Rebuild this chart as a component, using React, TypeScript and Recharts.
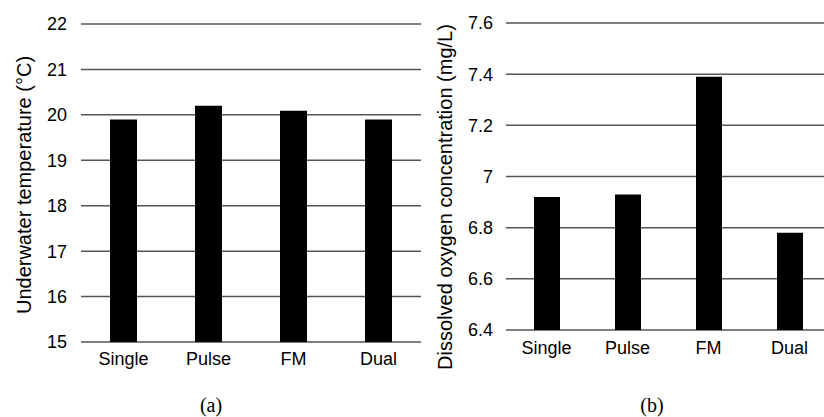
import { BarChart, Bar, XAxis, YAxis, CartesianGrid } from "recharts";

const modes = ["Single", "Pulse", "FM", "Dual"];
const temperature = [19.9, 20.2, 20.09, 19.9];
const oxygen = [6.92, 6.93, 7.39, 6.78];
const tempTicks = [15, 16, 17, 18, 19, 20, 21, 22];
const oxygenTicks = [6.4, 6.6, 6.8, 7, 7.2, 7.4, 7.6];

const tempData = modes.map((m, i) => ({ mode: m, value: temperature[i] }));
const oxygenData = modes.map((m, i) => ({ mode: m, value: oxygen[i] }));

const font = "'Liberation Sans', Arial, sans-serif";
const serif = "'Liberation Serif', 'Times New Roman', serif";
const tickStyle = { fontSize: 18, fill: "#000", fontFamily: font };
const gridColor = "#555";

export default function App() {
  return (
    <div
      style={{
        position: "absolute",
        left: 0,
        top: 0,
        width: 824,
        height: 417,
        overflow: "hidden",
        background: "#fff",
      }}
    >
      <div style={{ position: "absolute", left: 0, top: 0 }}>
        <BarChart
          width={421}
          height={417}
          data={tempData}
          margin={{ top: 24, right: 0, left: 0, bottom: 45 }}
        >
          <CartesianGrid vertical={false} stroke={gridColor} strokeWidth={1.5} />
          <XAxis
            dataKey="mode"
            axisLine={false}
            tickLine={false}
            tickMargin={4}
            tick={tickStyle}
            interval={0}
          />
          <YAxis
            width={81}
            domain={[15, 22]}
            ticks={tempTicks}
            axisLine={false}
            tickLine={false}
            tickMargin={8}
            tick={tickStyle}
          />
          <Bar dataKey="value" fill="#000" barSize={27} isAnimationActive={false} />
        </BarChart>
      </div>
      <div style={{ position: "absolute", left: 420, top: 0 }}>
        <BarChart
          width={410}
          height={417}
          data={oxygenData}
          margin={{ top: 23, right: 0, left: 0, bottom: 57 }}
        >
          <CartesianGrid vertical={false} stroke={gridColor} strokeWidth={1.5} />
          <XAxis
            dataKey="mode"
            axisLine={false}
            tickLine={false}
            tickMargin={5}
            tick={tickStyle}
            interval={0}
          />
          <YAxis
            width={86}
            domain={[6.4, 7.6]}
            ticks={oxygenTicks}
            axisLine={false}
            tickLine={false}
            tickMargin={7}
            tick={tickStyle}
            tickFormatter={(v: number) => String(v)}
          />
          <Bar dataKey="value" fill="#000" barSize={26} isAnimationActive={false} />
        </BarChart>
      </div>
      <svg
        width={824}
        height={417}
        style={{ position: "absolute", left: 0, top: 0, pointerEvents: "none" }}
      >
        <text
          x={24}
          y={185}
          transform="rotate(-90 24 185)"
          textAnchor="middle"
          dominantBaseline="central"
          fontSize={20}
          fontFamily={font}
          fill="#000"
        >
          Underwater temperature (°C)
        </text>
        <text
          x={445}
          y={197}
          transform="rotate(-90 445 197)"
          textAnchor="middle"
          dominantBaseline="central"
          fontSize={20}
          fontFamily={font}
          fill="#000"
        >
          Dissolved oxygen concentration (mg/L)
        </text>
        <text x={211} y={412} textAnchor="middle" fontSize={20} fontFamily={serif} fill="#000">
          (a)
        </text>
        <text x={652} y={412} textAnchor="middle" fontSize={20} fontFamily={serif} fill="#000">
          (b)
        </text>
      </svg>
    </div>
  );
}
